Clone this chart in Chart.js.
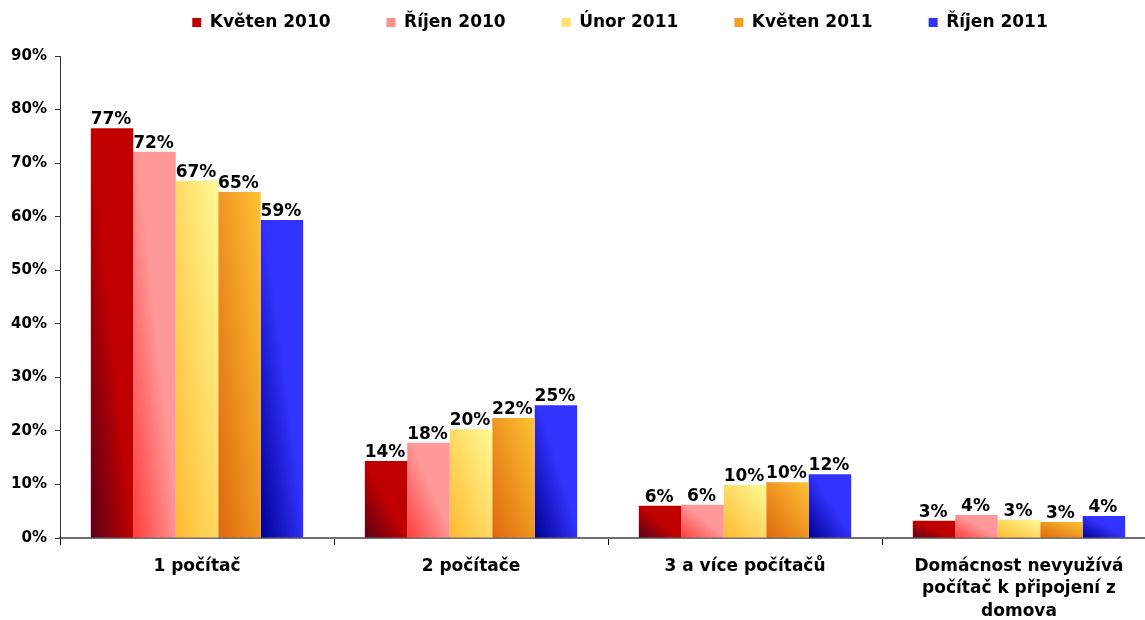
<!DOCTYPE html>
<html>
<head>
<meta charset="utf-8">
<title>Počet počítačů v domácnosti</title>
<script src="https://cdn.jsdelivr.net/npm/chart.js@4.4.1/dist/chart.umd.min.js"></script>
<style>
  html, body { margin: 0; padding: 0; background: #fff; overflow: hidden; }
  #chart { display: block; }
</style>
</head>
<body>
<canvas id="chart" width="1157" height="620"></canvas>
<script>
// categories and series
const categories = [
  '1 počítač',
  '2 počítače',
  '3 a více počítačů',
  ['Domácnost nevyužívá', 'počítač k připojení z', 'domova']
];
const seriesNames = ['Květen 2010', 'Říjen 2010', 'Únor 2011', 'Květen 2011', 'Říjen 2011'];
const may2010 = [76.5, 14.4, 6.0, 3.2];
const oct2010 = [72.1, 17.8, 6.2, 4.3];
const feb2011 = [66.7, 20.3, 9.9, 3.4];
const may2011 = [64.6, 22.4, 10.4, 3.0];
const oct2011 = [59.4, 24.8, 11.9, 4.1];
const yTicks = [0, 10, 20, 30, 40, 50, 60, 70, 80, 90];

// gradient stops per series (dark corner -> light corner)
const gradStops = [
  [[0, '#5a0018'], [0.5, '#c00000'], [1, '#c00000']],
  [[0, '#ff3c3c'], [0.55, '#ff9999'], [1, '#ff9999']],
  [[0, '#ffb930'], [1, '#fffa96']],
  [[0, '#de680c'], [1, '#ffc236']],
  [[0, '#000090'], [0.55, '#3333ff'], [1, '#3333ff']]
];
const legendColors = ['#c00000', '#ff9090', '#ffe070', '#f5a020', '#3333ff'];

const FONT = "'DejaVu Sans', Verdana, sans-serif";
const CAT_PCT = 0.775;
const LEGEND_PAD = 56;

// Excel-like "diagonal up" gradient, stretched to each bar's box
function barFill(ctx) {
  const stops = gradStops[ctx.datasetIndex];
  const chart = ctx.chart;
  if (ctx.type !== 'data' || !chart.scales.x || !chart.chartArea) return stops[stops.length - 1][1];
  const xs = chart.scales.x, ys = chart.scales.y;
  const n = chart.data.datasets.length;
  const catW = (xs.right - xs.left) / categories.length;
  const groupW = catW * CAT_PCT;
  const left = xs.getPixelForValue(ctx.dataIndex) - groupW / 2 + ctx.datasetIndex * groupW / n;
  const w = groupW / n;
  const top = ys.getPixelForValue(ctx.raw);
  const bottom = ys.getPixelForValue(0);
  const h = Math.max(bottom - top, 1);
  const t = 2 * w * h / (h * h + w * w);
  const g = chart.ctx.createLinearGradient(left, bottom, left + t * h, bottom - t * w);
  stops.forEach(s => g.addColorStop(s[0], s[1]));
  return g;
}

const valueLabels = {
  id: 'valueLabels',
  afterDatasetsDraw(chart) {
    const c = chart.ctx;
    c.save();
    c.font = 'bold 17px ' + FONT;
    c.fillStyle = '#000';
    c.textAlign = 'center';
    c.textBaseline = 'bottom';
    chart.data.datasets.forEach((ds, i) => {
      chart.getDatasetMeta(i).data.forEach((bar, j) => {
        c.fillText(Math.round(ds.data[j]) + '%', bar.x - 1, bar.y);
      });
    });
    c.restore();
  }
};

// wide gaps between legend items but a short legend box:
// fix the box height and lift the row back up into it (and nudge it right like the original)
const legendTweak = {
  id: 'legendTweak',
  beforeInit(chart) {
    const lg = chart.legend;
    const fit = lg.fit;
    lg.fit = function () {
      fit.call(this);
      this.height = 56;
    };
    const draw = lg._draw;
    lg._draw = function () {
      this.ctx.save();
      this.ctx.translate(42, -(LEGEND_PAD - 14));
      draw.call(this);
      this.ctx.restore();
    };
  }
};

const allSeries = [may2010, oct2010, feb2011, may2011, oct2011];

new Chart(document.getElementById('chart'), {
  type: 'bar',
  data: {
    labels: categories,
    datasets: allSeries.map((d, i) => ({
      label: seriesNames[i],
      data: d,
      backgroundColor: barFill,
      borderWidth: 0,
      categoryPercentage: CAT_PCT,
      barPercentage: 1
    }))
  },
  options: {
    responsive: false,
    animation: false,
    devicePixelRatio: 1,
    layout: { padding: { left: 0, right: 1, top: 0, bottom: 0 } },
    plugins: {
      tooltip: { enabled: false },
      legend: {
        position: 'top',
        labels: {
          font: { family: FONT, size: 17, weight: 'bold' },
          color: '#000',
          boxWidth: 9,
          boxHeight: 9,
          padding: LEGEND_PAD,
          generateLabels: (chart) => chart.data.datasets.map((ds, i) => ({
            text: ds.label,
            fillStyle: legendColors[i],
            strokeStyle: legendColors[i],
            lineWidth: 0,
            datasetIndex: i,
            hidden: false,
            fontColor: '#000'
          }))
        }
      }
    },
    scales: {
      x: {
        grid: { display: true, drawOnChartArea: false, drawTicks: true, tickLength: 7, color: '#000', offset: true },
        border: { display: true, color: '#707070', width: 2 },
        ticks: {
          font: { family: FONT, size: 17, weight: 'bold', lineHeight: 1.32 },
          color: '#000',
          padding: 10,
          maxRotation: 0,
          autoSkip: false
        },
        afterFit(scale) { scale.height = 82; }
      },
      y: {
        min: 0,
        max: 90,
        afterBuildTicks(scale) { scale.ticks = yTicks.map(v => ({ value: v })); },
        grid: { display: true, drawOnChartArea: false, drawTicks: true, tickLength: 5, color: '#333' },
        border: { display: true, color: '#333', width: 1 },
        ticks: {
          font: { family: FONT, size: 15, weight: 'bold' },
          color: '#000',
          padding: 8,
          callback: v => v + '%'
        },
        afterFit(scale) { scale.width = 60; }
      }
    }
  },
  plugins: [valueLabels, legendTweak]
});
</script>
</body>
</html>
